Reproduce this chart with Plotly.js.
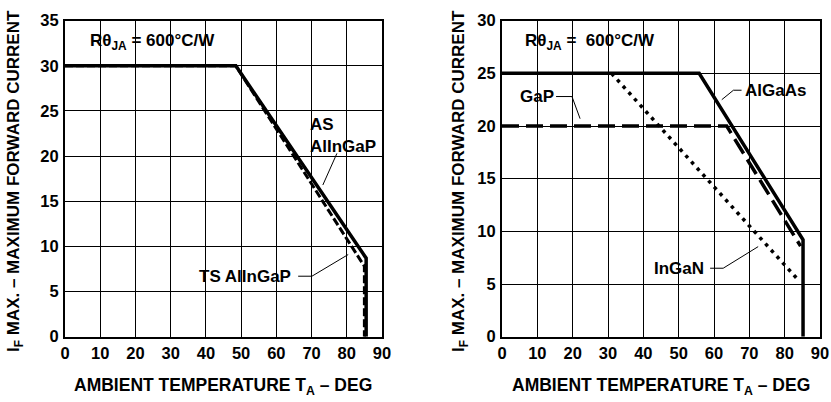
<!DOCTYPE html>
<html><head><meta charset="utf-8">
<script src="https://cdn.plot.ly/plotly-3.0.1.min.js"></script>
<style>html,body{margin:0;padding:0;background:#fff}#c{width:831px;height:402px}</style>
</head><body><div id="c"></div>
<script>
// Left chart: AlInGaP derating
const leftAS_x = [0, 48.5, 85.5, 85.5];
const leftAS_y = [30, 30, 8.7, 0];
const leftTS_x = [0, 48.5, 85, 85];
const leftTS_y = [30, 30, 7.8, 0];
// Right chart
const rightAlGaAs_x = [0, 55.8, 85.2, 85.2];
const rightAlGaAs_y = [25, 25, 9.2, 0];
const rightGaP_x = [0, 63.6, 84.5];
const rightGaP_y = [20, 20, 8.6];
const rightInGaN_x = [31, 83.8];
const rightInGaN_y = [25, 5.4];
const xTicks = [0,10,20,30,40,50,60,70,80,90];
const leftYTicks = [0,5,10,15,20,25,30,35];
const rightYTicks = [0,5,10,15,20,25,30];

const FONT = 'Liberation Sans, Arial, sans-serif';
const black = '#000';

const traces = [
  {x:leftAS_x, y:leftAS_y, xaxis:'x', yaxis:'y', mode:'lines', line:{color:black, width:3.5}},
  {x:leftTS_x, y:leftTS_y, xaxis:'x', yaxis:'y', mode:'lines', line:{color:black, width:3, dash:'8px,3px'}},
  {x:rightAlGaAs_x, y:rightAlGaAs_y, xaxis:'x2', yaxis:'y2', mode:'lines', line:{color:black, width:3.5}},
  {x:rightGaP_x, y:rightGaP_y, xaxis:'x2', yaxis:'y2', mode:'lines', line:{color:black, width:3.5, dash:'17px,7px'}},
  {x:rightInGaN_x, y:rightInGaN_y, xaxis:'x2', yaxis:'y2', mode:'lines', line:{color:black, width:3.5, dash:'3.5px,5px'}}
];

const tickF = {family:FONT, size:16.5, color:black};
function xax(domain, anchor){
  return {domain:domain, anchor:anchor, range:[0,90], tickvals:xTicks, ticktext:xTicks.map(v=>'<b>'+v+'</b>'),
    showgrid:true, gridcolor:black, gridwidth:1, showline:true, linecolor:black, linewidth:2, mirror:true,
    zeroline:false, ticks:'', ticklabelstandoff:0, tickfont:tickF, fixedrange:true};
}
function yax(domain, anchor, max, ticks){
  return {domain:domain, anchor:anchor, range:[0,max], tickvals:ticks, ticktext:ticks.map(v=>'<b>'+v+'</b>'),
    showgrid:true, gridcolor:black, gridwidth:1, showline:true, linecolor:black, linewidth:2, mirror:true,
    zeroline:false, ticks:'', ticklabelstandoff:1, tickfont:tickF, fixedrange:true};
}

const tf = {family:FONT, size:17, color:black};
function ann(xref, yref, x, y, text, extra){
  return Object.assign({xref:xref, yref:yref, x:x, y:y, text:'<b>'+text+'</b>', showarrow:false, font:tf,
    xanchor:'center', yanchor:'middle'}, extra||{});
}
const xtF = {family:FONT, size:17.5, color:black};
const ytF = {family:FONT, size:17, color:black};
const annotations = [
  ann('x','y',24.7,32.6,'Rθ<sub>JA</sub> = 600°C/W'),
  ann('x','y',69,22.3,'AS<br>AlInGaP',{xanchor:'left', align:'left'}),
  ann('x','y',51.1,6.7,'TS AlInGaP'),
  ann('x2','y2',24.9,28.0,'Rθ<sub>JA</sub> =  600°C/W'),
  ann('x2','y2',9.8,22.8,'GaP'),
  ann('x2','y2',77.3,23.4,'AlGaAs'),
  ann('x2','y2',50.1,6.5,'InGaN'),
  ann('paper','paper',223/831,1-386/402,'AMBIENT TEMPERATURE T<sub>A</sub> – DEG',{font:xtF}),
  ann('paper','paper',661/831,1-386/402,'AMBIENT TEMPERATURE T<sub>A</sub> – DEG',{font:xtF}),
  ann('paper','paper',15/831,1-181/402,'I<sub>F</sub> MAX. – MAXIMUM FORWARD CURRENT',{textangle:-90, font:ytF}),
  ann('paper','paper',460/831,1-181/402,'I<sub>F</sub> MAX. – MAXIMUM FORWARD CURRENT',{textangle:-90, font:ytF})
];
function seg(xref,yref,x0,y0,x1,y1){
  return {type:'line', xref:xref, yref:yref, x0:x0, y0:y0, x1:x1, y1:y1, line:{color:black, width:1}};
}
const shapes = [
  seg('x','y',77.2,20.3,73.2,16.8),
  seg('x','y',66.2,6.7,70.1,6.7), seg('x','y',70.1,6.7,80.4,9.1),
  seg('x2','y2',15.3,22.8,19.8,22.8), seg('x2','y2',19.8,22.8,22.1,20.7),
  seg('x2','y2',67.8,23.4,65.5,23.4), seg('x2','y2',65.5,23.4,62.2,22.5),
  seg('x2','y2',58.9,6.5,62.6,6.5), seg('x2','y2',62.6,6.5,72.5,8.55)
];

const layout = {
  width:831, height:402, margin:{l:0,r:0,t:0,b:0}, showlegend:false,
  paper_bgcolor:'#fff', plot_bgcolor:'#fff',
  xaxis: xax([65/831, 382/831], 'y'),
  yaxis: yax([1-336.7/402, 1-20.7/402], 'x', 35, leftYTicks),
  xaxis2: xax([502/831, 820/831], 'y2'),
  yaxis2: yax([1-336.7/402, 1-20.7/402], 'x2', 30, rightYTicks),
  annotations: annotations, shapes: shapes
};
Plotly.newPlot('c', traces, layout, {staticPlot:true, displayModeBar:false});
</script></body></html>
